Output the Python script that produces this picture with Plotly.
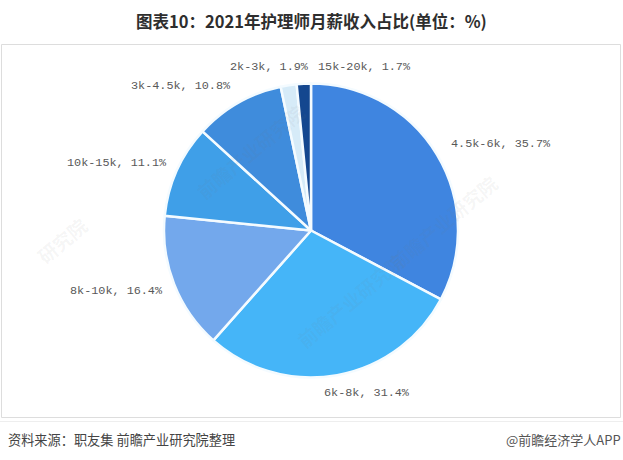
import plotly.graph_objects as go

categories = ["4.5k-6k", "6k-8k", "8k-10k", "10k-15k", "3k-4.5k", "2k-3k", "15k-20k"]
values = [35.7, 31.4, 16.4, 11.1, 10.8, 1.9, 1.7]
colors = ["#3F85E0", "#45B5F8", "#73A8EC", "#3F9FE8", "#3F8CDC", "#D6EBF8", "#14478F"]
title_text = "图表10：2021年护理师月薪收入占比(单位：%)"
source_text = "资料来源：职友集 前瞻产业研究院整理"
credit_text = "@前瞻经济学人APP"
watermarks = [("前瞻产业研究院", 250, 96), ("前瞻产业研究院", 505, 222),
              ("前瞻产业研究院", 350, 300), ("研究院", 28, 240)]

W, H = 623, 460
cx, cy, r = 311, 230.5, 147
label_font = dict(family="Liberation Mono, Noto Sans CJK SC", size=11.8, color="#585858")
# left edge and vertical middle of each slice label, in page pixels
label_anchor = {"4.5k-6k": (449, 144), "6k-8k": (322, 393), "8k-10k": (68, 291), "10k-15k": (65, 163),
                "3k-4.5k": (129, 86.5), "2k-3k": (228, 66.5), "15k-20k": (316, 66.5)}

fig = go.Figure(go.Pie(
    labels=categories, values=values, sort=False, direction="clockwise", rotation=0,
    textinfo="none", hoverinfo="label+value",
    marker=dict(colors=colors, line=dict(color="#F4FBFF", width=2.5)),
    domain=dict(x=[(cx - r) / W, (cx + r) / W], y=[1 - (cy + r) / H, 1 - (cy - r) / H]),
    automargin=False, showlegend=False,
))

annotations = [
    dict(text=f"<b>{title_text}</b>", x=311 / W, y=1 - 20.5 / H, xref="paper", yref="paper",
         showarrow=False, xanchor="center", yanchor="middle",
         font=dict(family="Noto Sans CJK SC", size=16.5, color="#2E2E2E")),
    dict(text=source_text, x=6 / W, y=1 - 439 / H, xref="paper", yref="paper",
         showarrow=False, xanchor="left", yanchor="middle",
         font=dict(family="Noto Sans CJK SC", size=13.2, color="#444444")),
    dict(text=credit_text, x=623 / W, y=1 - 439 / H, xref="paper", yref="paper",
         showarrow=False, xanchor="right", yanchor="middle",
         font=dict(family="Noto Sans CJK SC", size=13, color="#555555")),
]
for c, v in zip(categories, values):
    px, py = label_anchor[c]
    annotations.append(dict(text=f"{c}, {v}%", x=px / W, y=1 - py / H, xref="paper", yref="paper",
                            showarrow=False, xanchor="left", yanchor="middle", font=label_font))
for t, px, py in watermarks:
    annotations.append(dict(text=f"<b>{t}</b>", x=px / W, y=1 - py / H, xref="paper", yref="paper",
                            showarrow=False, textangle=-40,
                            font=dict(family="Noto Sans CJK SC", size=19, color="rgba(120,120,120,0.07)")))

fig.update_layout(
    width=W, height=H, margin=dict(l=0, r=0, t=0, b=0),
    paper_bgcolor="#FFFFFF", plot_bgcolor="#FFFFFF",
    annotations=annotations,
    shapes=[dict(type="rect", xref="paper", yref="paper", x0=1.5 / W, x1=620.5 / W,
                 y0=1 - 417.5 / H, y1=1 - 44.5 / H, line=dict(color="#DDDDDD", width=1)),
            dict(type="line", xref="paper", yref="paper", x0=0, x1=1,
                 y0=1 - 421.5 / H, y1=1 - 421.5 / H, line=dict(color="#EEEEEE", width=1))],
)
fig.write_html("out.html", config=dict(displayModeBar=False),
               post_script="document.body.style.margin='0';document.body.style.overflow='hidden';")
